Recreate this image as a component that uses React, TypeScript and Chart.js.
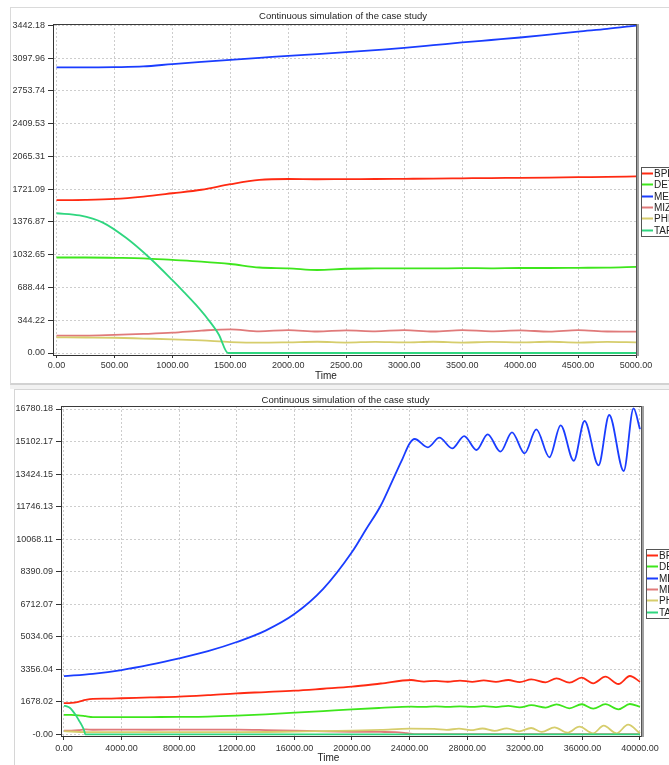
import React, { useEffect, useRef } from "react";
import { Chart, registerables } from "chart.js";

Chart.register(...registerables);

// ---------- shared ----------
const chartTitle = "Continuous simulation of the case study";
const xAxisTitle = "Time";
const seriesNames = ["BPL", "DET", "MEZ", "MIZ", "PHF", "TAP"];
const seriesColors = ["#ff2a12", "#3ee61c", "#1a3dff", "#e07a7a", "#d6cd6c", "#2fd67f"];

// ---------- top chart (0 .. 5000) ----------
const topTime = [0, 250, 500, 750, 1000, 1250, 1500, 1750, 2000, 2250, 2500, 2750, 3000, 3250, 3500, 3750, 4000, 4250, 4500, 4750, 5000];
const topBPL = [1605, 1608, 1618, 1643, 1678, 1715, 1773, 1818, 1828, 1825, 1827, 1828, 1830, 1832, 1835, 1838, 1840, 1843, 1847, 1850, 1855];
const topDET = [1003, 1003, 1000, 995, 978, 960, 935, 898, 890, 872, 885, 888, 890, 888, 892, 890, 893, 893, 895, 897, 905];
const topMEZ = [3000, 3000, 3003, 3010, 3035, 3058, 3080, 3100, 3122, 3140, 3160, 3182, 3205, 3233, 3262, 3288, 3314, 3345, 3377, 3405, 3440];
const topMIZ = [182, 182, 190, 200, 213, 235, 249, 228, 240, 226, 238, 228, 240, 226, 240, 228, 238, 224, 240, 226, 224];
const topPHF = [165, 163, 160, 152, 144, 132, 115, 108, 112, 118, 110, 117, 112, 118, 110, 116, 112, 118, 110, 116, 112];
const topTapTime = [0, 200, 400, 600, 800, 1000, 1100, 1200, 1300, 1400, 1480, 5000];
const topTAP = [1468, 1445, 1370, 1210, 1003, 765, 640, 510, 365, 195, 0, 0];

const topXTicks = [0, 500, 1000, 1500, 2000, 2500, 3000, 3500, 4000, 4500, 5000];
const topXTickLabels = ["0.00", "500.00", "1000.00", "1500.00", "2000.00", "2500.00", "3000.00", "3500.00", "4000.00", "4500.00", "5000.00"];
const topYTicks = [0, 344.22, 688.44, 1032.65, 1376.87, 1721.09, 2065.31, 2409.53, 2753.74, 3097.96, 3442.18];
const topYTickLabels = ["0.00", "344.22", "688.44", "1032.65", "1376.87", "1721.09", "2065.31", "2409.53", "2753.74", "3097.96", "3442.18"];

// ---------- bottom chart (0 .. 40000) ----------
const botMezTime = [0, 2000, 4000, 6000, 8000, 10000, 12000, 14000, 16000, 18000, 20000, 21000, 22000, 23000, 23500, 24000, 24350, 25270, 26070, 26960, 27790, 28650, 29420, 30310, 31110, 31990, 32800, 33710, 34490, 35400, 36150, 37120, 37860, 38870, 39550, 40000];
const botMEZ = [3000, 3122, 3314, 3590, 3920, 4290, 4760, 5350, 6200, 7500, 9400, 10600, 11800, 13400, 14200, 15000, 15232, 14804, 15300, 14752, 15386, 14665, 15474, 14577, 15577, 14494, 15732, 14288, 15938, 14112, 16160, 13875, 16470, 13581, 16815, 15733];

const botBplTime = [0, 500, 1000, 1500, 2000, 3000, 4000, 6000, 8000, 10000, 12000, 14000, 16000, 18000, 20000, 22000, 24100, 25000, 25800, 26650, 27500, 28350, 29150, 30000, 30850, 31650, 32450, 33450, 34200, 35100, 35950, 36750, 37600, 38500, 39300, 40000];
const botBPL = [1605, 1618, 1678, 1773, 1828, 1840, 1860, 1900, 1940, 2020, 2115, 2180, 2250, 2350, 2455, 2620, 2800, 2720, 2760, 2710, 2770, 2705, 2780, 2700, 2800, 2690, 2837, 2682, 2888, 2665, 2920, 2631, 2971, 2594, 3007, 2715];

const botDetTime = [0, 500, 1000, 1500, 2000, 4000, 6000, 8000, 10000, 12000, 14000, 16000, 18000, 20000, 22000, 24100, 25000, 25800, 26650, 27500, 28350, 29150, 30000, 30850, 31650, 32450, 33450, 34200, 35100, 35950, 36750, 37600, 38500, 39300, 40000];
const botDET = [1003, 1000, 978, 935, 890, 885, 890, 895, 910, 960, 1030, 1114, 1200, 1290, 1360, 1424, 1410, 1440, 1415, 1445, 1410, 1450, 1400, 1470, 1390, 1500, 1380, 1547, 1341, 1550, 1320, 1555, 1290, 1562, 1424];

const botMizTime = [0, 500, 1000, 1500, 2000, 4000, 6000, 8000, 10000, 12000, 14000, 16000, 18000, 20000, 22000, 23000, 23800, 24500, 40000];
const botMIZ = [182, 190, 213, 249, 235, 240, 235, 238, 240, 240, 220, 190, 150, 130, 120, 110, 60, 5, 5];

const botPhfTime = [0, 1500, 4000, 8000, 12000, 14000, 16000, 18000, 20000, 22000, 24000, 25710, 26570, 27430, 28250, 29060, 29900, 30750, 31600, 32440, 33180, 34070, 34960, 35790, 36740, 37480, 38370, 39170, 40000];
const botPHF = [165, 115, 112, 110, 112, 118, 140, 160, 190, 230, 290, 280, 230, 290, 210, 300, 180, 310, 150, 325, 120, 360, 85, 393, 50, 445, 50, 497, 50];

const botTapTime = [0, 200, 400, 600, 800, 1000, 1100, 1200, 1300, 1400, 1480, 40000];
const botTAP = [1468, 1445, 1370, 1210, 1003, 765, 640, 510, 365, 195, 0, 0];

const botXTicks = [0, 4000, 8000, 12000, 16000, 20000, 24000, 28000, 32000, 36000, 40000];
const botXTickLabels = ["0.00", "4000.00", "8000.00", "12000.00", "16000.00", "20000.00", "24000.00", "28000.00", "32000.00", "36000.00", "40000.00"];
const botYTicks = [0, 1678.02, 3356.04, 5034.06, 6712.07, 8390.09, 10068.11, 11746.13, 13424.15, 15102.17, 16780.18];
const botYTickLabels = ["-0.00", "1678.02", "3356.04", "5034.06", "6712.07", "8390.09", "10068.11", "11746.13", "13424.15", "15102.17", "16780.18"];

const FONT = '"Liberation Sans", Arial, Helvetica, sans-serif';

type Spec = {
  left: number; top: number; w: number; h: number;
  padTop: number; padRight: number; yAxisW: number; xAxisH: number;
  xMin: number; xMax: number; yMin: number; yMax: number;
  xTicks: number[]; xTickLabels: string[]; yTicks: number[]; yTickLabels: string[];
  xTickLen: number; xTickPad: number; yTickLen: number; yTickPad: number;
  titleX: number; titleY: number; timeX: number; timeY: number;
  legX: number; legY: number; legH: number; legFirst: number; legStep: number;
  series: { t: number[]; v: number[] }[];
};

const topSpec: Spec = {
  left: 11, top: 8, w: 658, h: 375,
  padTop: 16, padRight: 32, yAxisW: 42, xAxisH: 28,
  xMin: -30, xMax: 5008, yMin: -21, yMax: 3456,
  xTicks: topXTicks, xTickLabels: topXTickLabels, yTicks: topYTicks, yTickLabels: topYTickLabels,
  xTickLen: 3, xTickPad: 2, yTickLen: 5, yTickPad: 3,
  titleX: 332, titleY: 8.5, timeX: 315, timeY: 368.5,
  legX: 630, legY: 159, legH: 69, legFirst: 6, legStep: 11.3,
  series: [
    { t: topTime, v: topBPL },
    { t: topTime, v: topDET },
    { t: topTime, v: topMEZ },
    { t: topTime, v: topMIZ },
    { t: topTime, v: topPHF },
    { t: topTapTime, v: topTAP },
  ],
};

const botSpec: Spec = {
  left: 15, top: 390, w: 654, h: 375,
  padTop: 16, padRight: 27, yAxisW: 46, xAxisH: 29,
  xMin: -208, xMax: 40139, yMin: -88, yMax: 16935,
  xTicks: botXTicks, xTickLabels: botXTickLabels, yTicks: botYTicks, yTickLabels: botYTickLabels,
  xTickLen: 4, xTickPad: 3, yTickLen: 5, yTickPad: 3,
  titleX: 330.5, titleY: 10, timeX: 313.5, timeY: 368.3,
  legX: 631, legY: 159, legH: 69, legFirst: 6, legStep: 11.3,
  series: [
    { t: botBplTime, v: botBPL },
    { t: botDetTime, v: botDET },
    { t: botMezTime, v: botMEZ },
    { t: botMizTime, v: botMIZ },
    { t: botPhfTime, v: botPHF },
    { t: botTapTime, v: botTAP },
  ],
};

function overlayPlugin(s: Spec) {
  return {
    id: "overlay",
    afterDraw(chart: any) {
      const { ctx, chartArea: a } = chart;
      ctx.save();
      // top border and right border of plot
      ctx.fillStyle = "#3a3a3a";
      ctx.fillRect(a.left, a.top, a.right - a.left, 1);
      ctx.fillStyle = "#555";
      ctx.fillRect(a.right - 1, a.top, 1, a.bottom - a.top + 1);
      ctx.fillStyle = "#a0a0a0";
      ctx.fillRect(a.right, a.top, 2, a.bottom - a.top + 1);
      // title
      ctx.fillStyle = "#222";
      ctx.font = `9.5px ${FONT}`;
      ctx.textAlign = "center";
      ctx.textBaseline = "middle";
      ctx.fillText(chartTitle, s.titleX, s.titleY);
      ctx.font = `10px ${FONT}`;
      ctx.fillText(xAxisTitle, s.timeX, s.timeY);
      // legend
      ctx.fillStyle = "#fff";
      ctx.fillRect(s.legX, s.legY, 120, s.legH);
      ctx.strokeStyle = "#555";
      ctx.lineWidth = 1;
      ctx.strokeRect(s.legX + 0.5, s.legY + 0.5, 120, s.legH);
      ctx.textAlign = "left";
      ctx.font = `10px ${FONT}`;
      seriesNames.forEach((name, i) => {
        const y = Math.round(s.legY + s.legFirst + i * s.legStep) + 0.5;
        ctx.strokeStyle = seriesColors[i];
        ctx.lineWidth = 2;
        ctx.beginPath();
        ctx.moveTo(s.legX + 1, y);
        ctx.lineTo(s.legX + 12, y);
        ctx.stroke();
        ctx.fillStyle = "#222";
        ctx.fillText(name, s.legX + 13, y + 0.5);
      });
      ctx.restore();
    },
  };
}

function buildConfig(s: Spec): any {
  const tickFont = { family: FONT, size: 9 };
  return {
    type: "line",
    data: {
      datasets: s.series.map((ser, i) => ({
        label: seriesNames[i],
        data: ser.t.map((t, j) => ({ x: t, y: ser.v[j] })),
        borderColor: seriesColors[i],
        backgroundColor: seriesColors[i],
        borderWidth: 1.8,
        pointRadius: 0,
        fill: false,
        cubicInterpolationMode: "monotone",
        order: seriesNames.length - i,
      })),
    },
    options: {
      animation: false,
      responsive: false,
      events: [],
      layout: { padding: { top: s.padTop, right: s.padRight, left: 0, bottom: 0 } },
      plugins: { legend: { display: false }, title: { display: false }, tooltip: { enabled: false } },
      scales: {
        x: {
          type: "linear",
          bounds: "data",
          min: s.xMin,
          max: s.xMax,
          afterBuildTicks: (sc: any) => { sc.ticks = s.xTicks.map((v) => ({ value: v })); },
          afterFit: (sc: any) => { sc.height = s.xAxisH; },
          ticks: {
            autoSkip: false, maxRotation: 0, minRotation: 0,
            font: tickFont, color: "#333", padding: s.xTickPad,
            callback: (_v: any, i: number) => s.xTickLabels[i],
          },
          grid: { color: "#cdcdcd", lineWidth: 1, tickLength: s.xTickLen, tickColor: "#333", drawTicks: true },
          border: { display: true, color: "#333", width: 1, dash: [2, 2] },
        },
        y: {
          type: "linear",
          bounds: "data",
          min: s.yMin,
          max: s.yMax,
          afterBuildTicks: (sc: any) => { sc.ticks = s.yTicks.map((v) => ({ value: v })); },
          afterFit: (sc: any) => { sc.width = s.yAxisW; },
          ticks: {
            autoSkip: false,
            font: tickFont, color: "#333", padding: s.yTickPad,
            callback: (_v: any, i: number) => s.yTickLabels[i],
          },
          grid: { color: "#cdcdcd", lineWidth: 1, tickLength: s.yTickLen, tickColor: "#333", drawTicks: true },
          border: { display: true, color: "#333", width: 1, dash: [2, 2] },
        },
      },
    },
    plugins: [overlayPlugin(s)],
  };
}

function SimChart({ spec }: { spec: Spec }) {
  const ref = useRef<HTMLCanvasElement>(null);
  useEffect(() => {
    const chart = new Chart(ref.current as HTMLCanvasElement, buildConfig(spec));
    return () => chart.destroy();
  }, [spec]);
  return (
    <canvas
      ref={ref}
      width={spec.w}
      height={spec.h}
      style={{ position: "absolute", left: spec.left, top: spec.top, width: spec.w, height: spec.h }}
    />
  );
}

export default function App() {
  return (
    <div style={{ position: "absolute", left: 0, top: 0, width: 669, height: 765, overflow: "hidden", background: "#fff" }}>
      <div style={{ position: "absolute", left: 10, top: 7, width: 700, height: 378, boxSizing: "border-box", border: "1px solid #dadada", borderBottom: "2px solid #d2d2d2", background: "#fff" }} />
      <div style={{ position: "absolute", left: 10, top: 385, width: 700, height: 4, background: "#f2f2f2" }} />
      <div style={{ position: "absolute", left: 14, top: 389, width: 700, height: 400, boxSizing: "border-box", border: "1px solid #d6d6d6", background: "#fff" }} />
      <SimChart spec={topSpec} />
      <SimChart spec={botSpec} />
    </div>
  );
}
